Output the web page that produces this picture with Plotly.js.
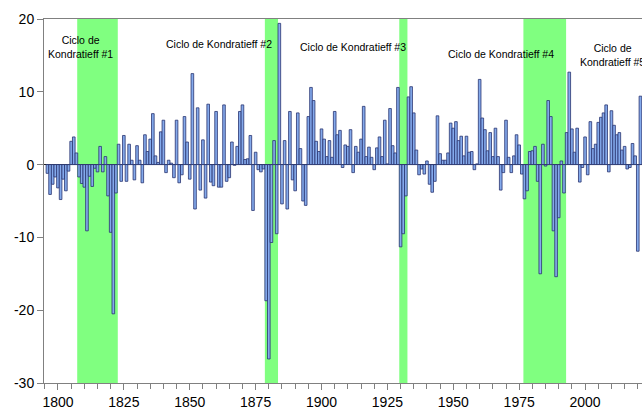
<!DOCTYPE html>
<html>
<head>
<meta charset="utf-8">
<script src="https://cdn.plot.ly/plotly-3.0.1.min.js"></script>
<style>
  html, body { margin: 0; padding: 0; background: #ffffff; }
  #chart { width: 642px; height: 409px; }
</style>
</head>
<body>
<div id="chart"></div>
<script>
// ---- Data (annual values) ----
const firstYear = 1796;

const values1796_1845 = [
  -1.2, -4.1, -2.7, -1.7, -3.2, -4.8, -2.0, -3.6, -0.9, 3.2,
   3.8,  1.6, -1.7, -2.6, -3.1, -9.1, -1.6, -3.0, -0.5, -1.0,
   2.5, -1.0,  1.1, -4.3, -9.3, -20.5, -3.9, 2.8, -2.3, 4.0,
  -2.3,  2.8,  0.6, -2.1,  2.6,  0.6, -2.5, 4.1,  1.8,  3.5,
   7.0,  1.2,  0.3,  4.5,  6.1, -1.1,  0.6, 0.2, -1.8,  6.1
];
const values1846_1895 = [
  -2.5, -1.4,  6.6,  3.1, -2.0, 12.5, -6.1, 7.8, -3.5,  3.4,
  -4.6,  8.3, -2.4, -2.9,  7.3, -3.1, -3.1, 8.2, -2.3, -1.8,
   3.1, -0.1,  2.5,  7.3,  8.2,  0.7,  0.8, 4.0, -6.3,  1.7,
  -0.7, -1.0, -0.6, -18.7, -26.7, -10.7, 3.3, -9.5, 19.4, -5.4,
   3.3, -6.1,  7.3, -2.1, -3.6,  7.1,  2.2, -5.0, -5.6,  6.6
];
const values1896_1945 = [
  10.6,  8.8,  3.2,  1.8,  4.9,  3.5,  1.1, 3.3,  1.0,  7.3,
   4.1,  4.7, -0.4,  2.7,  2.5,  4.8, -1.1, 2.5,  1.7,  3.5,
   8.0,  1.1,  2.4,  1.0, -0.7,  2.3,  3.8, 1.1,  6.1,  0.1,
   7.7,  2.6,  1.6, 10.6, -11.3, -9.5, -4.3, 9.3, 10.7, 7.1,
   2.0, -1.4, -0.6, -1.3,  0.5, -2.7, -3.8, -2.3, 6.7,  1.5
];
const values1946_1995 = [
   0.6,  0.6,  1.6,  5.7,  5.0,  5.9,  3.3, 3.9,  1.2,  3.9,
   1.7,  1.8, -0.7,  0.1, 11.7,  6.4,  4.8, 1.9,  4.4,  1.1,
   5.0,  1.1, -3.5, -1.1,  6.1,  1.0, -1.1, 1.2,  4.1,  2.7,
  -1.3, -4.7, -3.6,  1.8,  1.9,  2.5, -2.3, -15.0, 2.8, -0.2,
   8.8,  6.6, -9.1, -15.4, -7.3, 0.5, -3.9, 4.4, 12.7,  4.9
];
const values1996_2021 = [
   1.7,  5.0, -2.4, -0.4,  3.8, -1.4,  5.9, 2.2,  2.8,  5.8,
   6.5,  7.1,  8.2, -1.0,  7.4,  5.4,  4.1, 4.4,  2.0,  2.5,
  -0.6, -0.4,  2.9,  1.2, -11.9, 9.4
];

const values = [].concat(values1796_1845, values1846_1895, values1896_1945,
                         values1946_1995, values1996_2021);
const years = values.map((_, i) => firstYear + i);

// Kondratieff cycle shaded periods (start / end, in years) and labels
const cycleStart = [1807.3, 1878.5, 1929.5, 1976.6];
const cycleEnd   = [1822.7, 1883.5, 1932.6, 1992.8];

const cycleLabels = [
  "Ciclo de<br>Kondratieff #1",
  "Ciclo de Kondratieff #2",
  "Ciclo de Kondratieff #3",
  "Ciclo de Kondratieff #4",
  "Ciclo de<br>Kondratieff #5"
];
const cycleLabelX = [1808.4, 1861.1, 1912.0, 1968.2, 2010.3];
const cycleLabelY = [16.1, 16.6, 16.2, 15.2, 15.0];

const xTickVals = [1800, 1825, 1850, 1875, 1900, 1925, 1950, 1975, 2000];
const xTickText = ["1800", "1825", "1850", "1875", "1900", "1925", "1950", "1975", "2000"];
const yTickVals = [-30, -20, -10, 0, 10, 20];
const yTickText = ["-30", "-20", "-10", "0", "10", "20"];

// ---- Chart ----
const FONT = "Arial, 'Liberation Sans', sans-serif";

const trace = {
  type: "bar",
  x: years,
  y: values,
  width: 1,
  marker: {
    color: "rgb(132,170,236)",
    line: { color: "rgb(40,52,112)", width: 0.8 }
  },
  hoverinfo: "x+y"
};

const shapes = cycleStart.map((s, i) => ({
  type: "rect",
  xref: "x", yref: "paper",
  x0: s, x1: cycleEnd[i], y0: 0, y1: 1,
  fillcolor: "rgb(128,255,128)",
  line: { width: 0 },
  layer: "below"
}));

const annotations = cycleLabels.map((t, i) => ({
  text: t,
  x: cycleLabelX[i], y: cycleLabelY[i],
  xref: "x", yref: "y",
  showarrow: false,
  xanchor: "center", yanchor: "middle",
  align: "center",
  font: { family: FONT, size: 10.5, color: "#000000" }
}));

const layout = {
  width: 642,
  height: 409,
  margin: { l: 44, r: 0, t: 19, b: 26, pad: 0 },
  paper_bgcolor: "#ffffff",
  plot_bgcolor: "#ffffff",
  showlegend: false,
  bargap: 0,
  font: { family: FONT, size: 14, color: "#000000" },
  xaxis: {
    range: [1794.7, 2021.6],
    tickmode: "array",
    tickvals: xTickVals,
    ticktext: xTickText,
    ticks: "outside",
    ticklen: 6,
    tickcolor: "#808080",
    tickwidth: 1,
    minor: { dtick: 5, tick0: 1800, ticks: "outside", ticklen: 5, tickcolor: "#808080", tickwidth: 1, showgrid: false },
    showline: true,
    linecolor: "#808080",
    linewidth: 1,
    mirror: true,
    showgrid: false,
    zeroline: false,
    tickfont: { family: FONT, size: 14, color: "#000000" },
    fixedrange: true
  },
  yaxis: {
    range: [-30, 20],
    tickmode: "array",
    tickvals: yTickVals,
    ticktext: yTickText,
    ticks: "outside",
    ticklen: 6,
    tickcolor: "#808080",
    tickwidth: 1,
    showline: true,
    linecolor: "#808080",
    linewidth: 1,
    showgrid: false,
    zeroline: true,
    zerolinecolor: "#222222",
    zerolinewidth: 1,
    tickfont: { family: FONT, size: 14, color: "#000000" },
    fixedrange: true
  },
  shapes: shapes,
  annotations: annotations
};

Plotly.newPlot("chart", [trace], layout, { displayModeBar: false, staticPlot: true });
</script>
</body>
</html>
